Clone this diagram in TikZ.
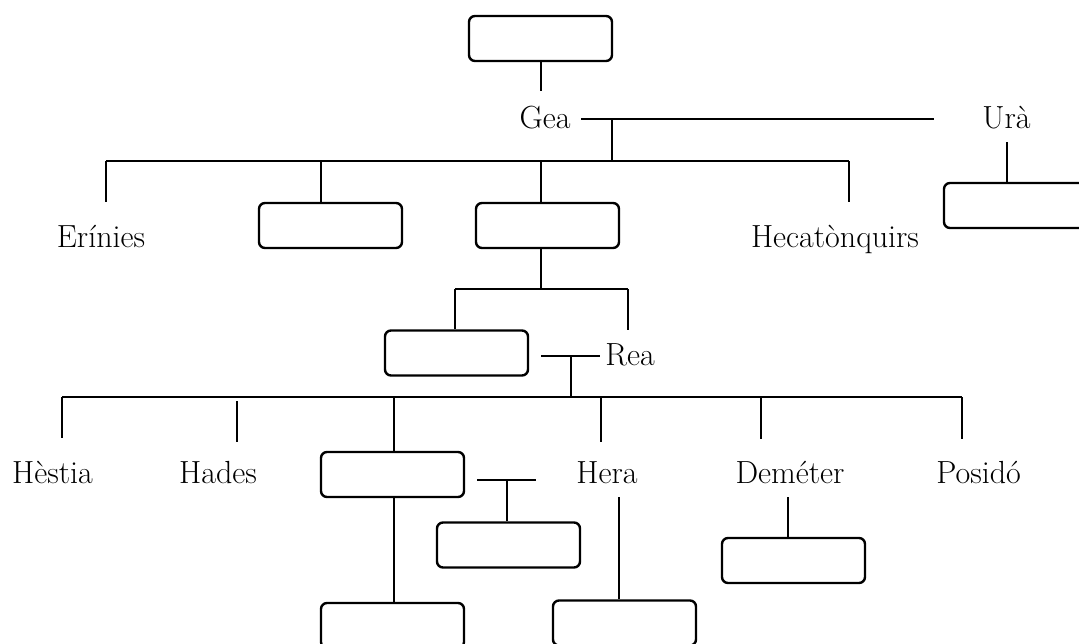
\documentclass[tikz,border=0pt]{standalone}
\usepackage{fontspec}
\tikzset{
  famBox/.style={draw,line width=1.2pt,rounded corners=3pt,minimum width=71.5pt,minimum height=22.5pt,inner sep=0pt},
  famName/.style={anchor=base,inner sep=0pt,font=\fontsize{16}{19}\selectfont}
}
\begin{document}
\begin{tikzpicture}[x=0.5pt,y=-0.5pt,line width=1pt]
    \path[use as bounding box,clip] (0,0) rectangle (1079,643);

    % Gea i Urà
    \node[famBox] (caos) at (540.5,38.5) {};
    \node[famName] (gea) at (545,128) {Gea};
    \node[famName] (ura) at (1006.5,128) {Urà};
    \node[famBox] (uraKid) at (1015.5,205.5) {};
    \coordinate (caosEnd) at (540.5,91);
    \draw (caos) -- (caosEnd);
    \coordinate (geaR) at (581,119);
    \coordinate (uraL) at (934,119);
    \draw (geaR) -- (uraL);
    \coordinate (uraStub) at (1006.5,142);
    \draw (uraStub) -- (uraStub |- uraKid.north);

    % fills de Gea
    \coordinate (geaJ) at (612,119);
    \coordinate (barA) at (612,161);
    \draw (geaJ) -- (barA);
    \coordinate (barAL) at (106,161);
    \coordinate (barAR) at (849,161);
    \draw (barAL) -- (barAR);
    \node[famName] (erinies) at (101,247) {Erínies};
    \node[famName] (hecat) at (835,247) {Hecatònquirs};
    \node[famBox] (pontBox) at (330.5,225.5) {};
    \node[famBox] (cronBox) at (547.5,225.5) {};
    \coordinate (eriStub) at (106,202);
    \coordinate (hecStub) at (849,202);
    \draw (barAL) -- (eriStub);
    \draw (barAR) -- (hecStub);
    \coordinate (pontX) at (320.5,161);
    \draw (pontX) -- (pontX |- pontBox.north);
    \coordinate (cronX) at (541,161);
    \draw (cronX) -- (cronX |- cronBox.north);

    % Cronos i Rea
    \coordinate (barB) at (541,289);
    \draw (cronX |- cronBox.south) -- (barB);
    \coordinate (barBL) at (455,289);
    \coordinate (barBR) at (628,289);
    \draw (barBL) -- (barBR);
    \node[famBox] (cronos) at (456.5,353) {};
    \node[famName] (rea) at (630,365) {Rea};
    \draw (barBL) -- (barBL |- cronos.north);
    \coordinate (reaStub) at (628,330);
    \draw (barBR) -- (reaStub);
    \coordinate (reaL) at (541,356);
    \coordinate (reaR) at (600,356);
    \draw (reaL) -- (reaR);
    \coordinate (reaJ) at (570.5,356);
    \coordinate (barC) at (570.5,397);
    \draw (reaJ) -- (barC);

    % fills de Cronos i Rea
    \coordinate (barCL) at (62,397);
    \coordinate (barCR) at (962,397);
    \draw (barCL) -- (barCR);
    \node[famName] (hestia) at (52.5,483) {Hèstia};
    \node[famName] (hades) at (218,483) {Hades};
    \node[famName] (hera) at (607,483) {Hera};
    \node[famName] (demeter) at (790,483) {Deméter};
    \node[famName] (posido) at (978.5,483) {Posidó};
    \foreach \n/\x/\s/\e in {hestia/62/397/438, hades/237.4/401/442, hera/600.8/397/442, demeter/761/397/439, posido/962/397/439}
    \draw (\x,\s) coordinate (\n Top) -- (\x,\e) coordinate (\n Stub);

    \node[famBox] (zeus) at (392.5,474.5) {};
    \coordinate (zeusX) at (394.4,397);
    \draw (zeusX) -- (zeusX |- zeus.north);
    \node[famBox] (zeusKid) at (392.5,625.5) {};
    \draw (zeusX |- zeus.south) -- (zeusX |- zeusKid.north);

    \coordinate (spL) at (477,480);
    \coordinate (spR) at (535.5,480);
    \draw (spL) -- (spR);
    \node[famBox] (spKid) at (508.5,545) {};
    \coordinate (spJ) at (507,480);
    \draw (spJ) -- (spJ |- spKid.north);

    \node[famBox] (heraKid) at (624.5,623) {};
    \coordinate (heraLow) at (619.4,497);
    \draw (heraLow) -- (heraLow |- heraKid.north);

    \node[famBox] (demKid) at (793.5,560.5) {};
    \coordinate (demLow) at (788,497);
    \draw (demLow) -- (demLow |- demKid.north);
\end{tikzpicture}
\end{document}
